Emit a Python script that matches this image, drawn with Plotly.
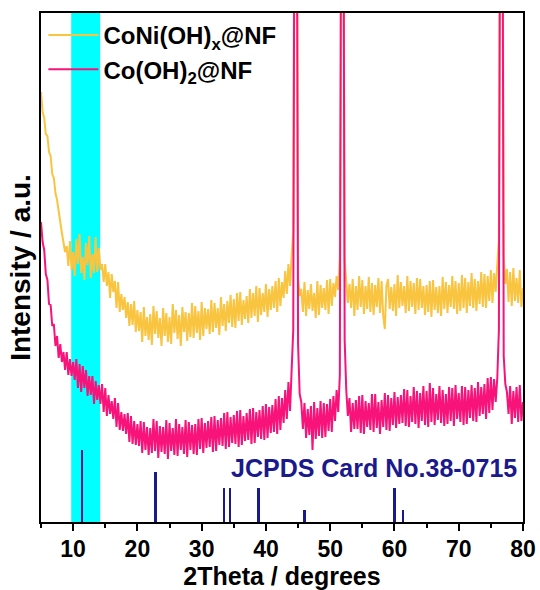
import numpy as np
import plotly.graph_objects as go

# 2-theta sampling grid (degrees), 0.25 deg step
two_theta = np.round(np.arange(5.0, 80.001, 0.25), 2)

# CoNi(OH)x@NF intensity (a.u.), 4 samples per degree
coni_oh = [
    430, 410, 404, 388,   # 5
    386, 370, 366, 348,   # 6
    344, 329, 322, 309,   # 7
    300, 289, 280, 270,   # 8
    276, 256, 281, 252,   # 9
    270, 246, 283, 258,   # 10
    288, 249, 265, 242,   # 11
    279, 257, 286, 244,   # 12
    268, 249, 285, 250,   # 13
    274, 252, 258, 240,   # 14
    258, 236, 250, 224,   # 15
    248, 230, 241, 214,   # 16
    240, 210, 228, 212,   # 17
    225, 204, 220, 196,   # 18
    218, 197, 221, 190,   # 19
    212, 191, 210, 180,   # 20
    215, 186, 205, 182,   # 21
    208, 177, 216, 188,   # 22
    211, 184, 204, 176,   # 23
    214, 186, 209, 180,   # 24
    205, 178, 218, 189,   # 25
    212, 183, 207, 176,   # 26
    215, 190, 210, 181,   # 27
    209, 185, 219, 184,   # 28
    216, 189, 211, 182,   # 29
    220, 186, 214, 193,   # 30
    213, 188, 222, 190,   # 31
    219, 194, 214, 187,   # 32
    225, 196, 218, 191,   # 33
    221, 199, 227, 195,   # 34
    223, 194, 229, 201,   # 35
    230, 197, 222, 203,   # 36
    226, 199, 233, 204,   # 37
    229, 206, 236, 200,   # 38
    234, 207, 229, 210,   # 39
    238, 205, 233, 212,   # 40
    236, 214, 241, 210,   # 41
    244, 216, 240, 224,   # 42
    251, 228, 258, 236,   # 43
    266, 290, 800, 800,   # 44
    244, 226, 233, 210,   # 45
    240, 206, 232, 213,   # 46
    238, 211, 229, 204,   # 47
    241, 207, 237, 214,   # 48
    234, 212, 242, 208,   # 49
    243, 216, 239, 225,   # 50
    246, 232, 264, 800,   # 51
    800, 262, 244, 219,   # 52
    238, 214, 243, 206,   # 53
    236, 212, 246, 215,   # 54
    242, 208, 236, 213,   # 55
    245, 210, 239, 207,   # 56
    237, 215, 244, 209,   # 57
    241, 206, 193, 236,   # 58
    243, 213, 235, 211,   # 59
    238, 206, 247, 214,   # 60
    240, 216, 236, 209,   # 61
    246, 211, 241, 215,   # 62
    239, 208, 244, 212,   # 63
    243, 214, 236, 207,   # 64
    237, 210, 241, 205,   # 65
    242, 212, 235, 209,   # 66
    236, 206, 245, 213,   # 67
    240, 209, 237, 215,   # 68
    246, 213, 241, 208,   # 69
    239, 211, 247, 214,   # 70
    244, 209, 240, 216,   # 71
    249, 214, 243, 211,   # 72
    241, 218, 250, 215,   # 73
    248, 214, 246, 221,   # 74
    252, 219, 249, 230,   # 75
    258, 282, 800, 800,   # 76
    264, 238, 253, 220,   # 77
    250, 216, 254, 221,   # 78
    244, 219, 252, 215,   # 79
    234,                  # 80
]

# Co(OH)2@NF intensity (a.u.)
co_oh2 = [
    300, 280, 272, 248,   # 5
    242, 218, 217, 196,   # 6
    198, 176, 186, 164,   # 7
    178, 160, 170, 152,   # 8
    170, 147, 163, 146,   # 9
    160, 142, 163, 134,   # 10
    158, 130, 156, 134,   # 11
    152, 126, 146, 127,   # 12
    146, 118, 141, 122,   # 13
    137, 118, 138, 110,   # 14
    134, 106, 127, 108,   # 15
    121, 103, 124, 95,    # 16
    119, 92, 110, 91,     # 17
    108, 88, 109, 80,     # 18
    106, 78, 101, 77,     # 19
    98, 76, 101, 69,      # 20
    100, 72, 95, 67,      # 21
    94, 69, 103, 71,      # 22
    101, 64, 96, 70,      # 23
    95, 68, 102, 63,      # 24
    99, 71, 94, 67,       # 25
    103, 66, 98, 72,      # 26
    95, 68, 102, 65,      # 27
    100, 72, 97, 68,      # 28
    98, 67, 103, 73,      # 29
    104, 69, 99, 74,      # 30
    101, 75, 105, 70,     # 31
    106, 71, 102, 77,     # 32
    104, 76, 109, 73,     # 33
    110, 75, 105, 79,     # 34
    107, 78, 111, 75,     # 35
    112, 77, 106, 81,     # 36
    109, 82, 113, 78,     # 37
    114, 79, 110, 85,     # 38
    112, 83, 116, 82,     # 39
    118, 84, 115, 89,     # 40
    117, 90, 123, 88,     # 41
    126, 92, 124, 99,     # 42
    132, 103, 140, 111,   # 43
    152, 192, 800, 800,   # 44
    178, 128, 120, 93,    # 45
    119, 84, 113, 87,     # 46
    116, 72, 120, 83,     # 47
    114, 86, 121, 84,     # 48
    119, 85, 118, 91,     # 49
    123, 90, 126, 101,    # 50
    132, 110, 147, 800,   # 51
    800, 182, 132, 106,   # 52
    124, 90, 119, 93,     # 53
    122, 93, 126, 89,     # 54
    127, 88, 121, 95,     # 55
    119, 92, 128, 90,     # 56
    128, 94, 120, 88,     # 57
    122, 95, 129, 92,     # 58
    127, 91, 124, 97,     # 59
    130, 94, 125, 98,     # 60
    127, 99, 133, 96,     # 61
    132, 95, 126, 100,    # 62
    135, 98, 131, 94,     # 63
    129, 101, 136, 97,    # 64
    131, 95, 139, 100,    # 65
    134, 97, 128, 102,    # 66
    136, 99, 132, 96,     # 67
    128, 98, 135, 101,    # 68
    134, 96, 137, 103,    # 69
    129, 100, 136, 97,    # 70
    135, 98, 132, 104,    # 71
    137, 101, 134, 100,   # 72
    140, 106, 135, 108,   # 73
    138, 103, 144, 109,   # 74
    145, 112, 143, 120,   # 75
    144, 192, 800, 800,   # 76
    166, 138, 130, 108,   # 77
    136, 98, 131, 104,    # 78
    135, 100, 137, 101,   # 79
    120,                  # 80
]

# JCPDS Card No.38-0715 reference lines
ref_pos = [11.4, 22.8, 33.5, 34.4, 38.8, 46.0, 60.0, 61.3]
ref_int = [72, 50, 34.5, 34.5, 34.5, 12.5, 34.5, 12.5]

# highlighted band (degrees)
band = [9.7, 14.2]

ORANGE = "#F9C440"
PINK = "#F8137A"
NAVY = "#1A1A8C"
CYAN = "#00FFFF"
FONT = "Liberation Sans, Arial, sans-serif"

fig = go.Figure()

fig.add_trace(go.Scatter(
    x=two_theta, y=coni_oh, mode="lines",
    name="CoNi(OH)<sub>x</sub>@NF",
    line=dict(color=ORANGE, width=2),
))
fig.add_trace(go.Scatter(
    x=two_theta, y=co_oh2, mode="lines",
    name="Co(OH)<sub>2</sub>@NF",
    line=dict(color=PINK, width=2),
))
fig.add_trace(go.Bar(
    x=ref_pos, y=ref_int, width=0.4,
    marker=dict(color=NAVY, line=dict(width=0)),
    showlegend=False, hoverinfo="x",
))

fig.add_shape(type="rect", xref="x", yref="paper",
              x0=band[0], x1=band[1], y0=0, y1=1,
              fillcolor=CYAN, line=dict(width=0), layer="below")

fig.add_annotation(
    x=79.4, y=54, xref="x", yref="y", xanchor="right", yanchor="middle",
    text="<b>JCPDS Card No.38-0715</b>", showarrow=False,
    font=dict(family=FONT, size=25, color=NAVY),
)

fig.update_layout(
    width=540, height=590,
    margin=dict(l=41, r=17, t=13, b=68),
    paper_bgcolor="white", plot_bgcolor="white",
    font=dict(family=FONT, color="black"),
    showlegend=True,
    legend=dict(
        x=0.005, y=1.0, xanchor="left", yanchor="top",
        bgcolor="rgba(0,0,0,0)",
        font=dict(family=FONT, size=24, color="black", weight="bold"),
        itemwidth=50,
        tracegroupgap=0,
    ),
    bargap=0,
)

fig.update_xaxes(
    range=[5, 80], tickmode="linear", tick0=0, dtick=10,
    ticks="outside", ticklen=7, tickwidth=2, tickcolor="black",
    ticklabelstandoff=-2,
    minor=dict(ticks="outside", ticklen=4, tickwidth=2, tickcolor="black", dtick=5, tick0=0),
    showline=True, linewidth=2, linecolor="black", mirror=True,
    showgrid=False, zeroline=False, automargin=False,
    tickfont=dict(family=FONT, size=23, color="black", weight="bold"),
    title=dict(text="<b>2Theta / degrees</b>", font=dict(family=FONT, size=25, color="black"), standoff=6),
)
fig.update_yaxes(
    range=[0, 509], showticklabels=False, ticks="",
    showline=True, linewidth=2, linecolor="black", mirror=True,
    showgrid=False, zeroline=False, automargin=False,
    title=dict(text="<b>Intensity / a.u.</b>", font=dict(family=FONT, size=28, color="black"), standoff=0),
)

fig.write_html("out.html")
